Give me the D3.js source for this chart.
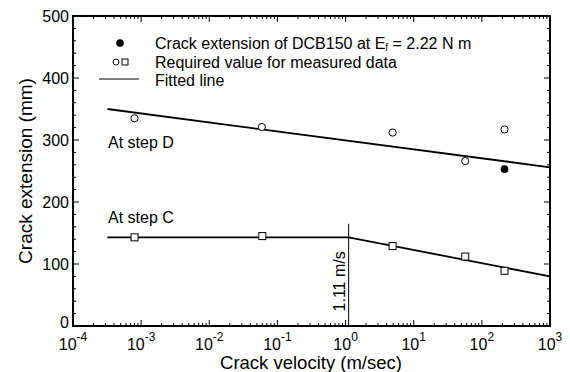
<!DOCTYPE html>
<html>
<head>
<meta charset="utf-8">
<style>
  body { margin: 0; background: #fff; }
  svg text { font-family: "Liberation Sans", Arial, sans-serif; fill: #000; }
</style>
</head>
<body>
<svg id="plot"></svg>
<script src="https://cdn.jsdelivr.net/npm/d3@7"></script>
<script>
// measured data (velocity m/s, crack extension mm)
var stepDVel = [8e-4, 0.059, 4.9, 57, 215];
var stepDExt = [335, 321, 312, 266, 317];
var stepCVel = [8e-4, 0.06, 4.9, 57, 215];
var stepCExt = [143, 145, 129, 112, 89];
var dcbVel = [215];
var dcbExt = [253];

// fitted lines
var fitD = [[3.2e-4, 350], [1000, 256]];
var fitC = [[3.2e-4, 143], [1.11, 143], [1000, 80]];
var transitionVel = 1.11;
var transitionTop = 165;

var yTicks = [0, 100, 200, 300, 400, 500];
var xExps = [-4, -3, -2, -1, 0, 1, 2, 3];

var screen = {width: 570, height: 372};
var margins = {top: 16, bottom: 46, left: 73, right: 20};
var graph = {
    width: screen.width - margins.left - margins.right,
    height: screen.height - margins.top - margins.bottom
};

var svg = d3.select("#plot")
    .attr("width", screen.width)
    .attr("height", screen.height);

var xScale = d3.scaleLog()
    .domain([1e-4, 1e3])
    .range([0, graph.width]);

var yScale = d3.scaleLinear()
    .domain([0, 500])
    .range([graph.height, 0]);

var g = svg.append("g")
    .attr("transform", "translate(" + margins.left + "," + margins.top + ")");

// minor ticks
var minorX = [];
xExps.slice(0, -1).forEach(function(e) {
    for (var m = 2; m <= 9; m++) minorX.push(m * Math.pow(10, e));
});
var minorY = d3.range(0, 501, 20).filter(function(v) { return v % 100 != 0; });

var ticks = g.append("g").attr("stroke", "#000").attr("stroke-width", 1);

minorX.forEach(function(v) {
    var x = xScale(v);
    ticks.append("line").attr("x1", x).attr("x2", x).attr("y1", graph.height).attr("y2", graph.height - 3);
    ticks.append("line").attr("x1", x).attr("x2", x).attr("y1", 0).attr("y2", 3);
});
xExps.forEach(function(e) {
    var x = xScale(Math.pow(10, e));
    ticks.append("line").attr("x1", x).attr("x2", x).attr("y1", graph.height).attr("y2", graph.height - 6);
    ticks.append("line").attr("x1", x).attr("x2", x).attr("y1", 0).attr("y2", 6);
});
minorY.forEach(function(v) {
    var y = yScale(v);
    ticks.append("line").attr("x1", 0).attr("x2", 3).attr("y1", y).attr("y2", y);
    ticks.append("line").attr("x1", graph.width).attr("x2", graph.width - 3).attr("y1", y).attr("y2", y);
});
yTicks.forEach(function(v) {
    var y = yScale(v);
    ticks.append("line").attr("x1", 0).attr("x2", 6).attr("y1", y).attr("y2", y);
    ticks.append("line").attr("x1", graph.width).attr("x2", graph.width - 6).attr("y1", y).attr("y2", y);
});

// frame
g.append("rect")
    .attr("width", graph.width)
    .attr("height", graph.height)
    .attr("fill", "none")
    .attr("stroke", "#000")
    .attr("stroke-width", 2);

// tick labels
g.selectAll(".ylab")
    .data(yTicks)
    .enter()
    .append("text")
    .attr("x", -4)
    .attr("y", function(d) { return yScale(d); })
    .attr("dy", d => d == 0 ? "0.15em" : "0.35em")
    .attr("text-anchor", "end")
    .style("font-size", "16px")
    .text(function(d) { return d; });

var xl = g.selectAll(".xlab")
    .data(xExps)
    .enter()
    .append("text")
    .attr("x", function(d) { return xScale(Math.pow(10, d)); })
    .attr("y", graph.height + 24)
    .attr("text-anchor", "middle")
    .style("font-size", "16px");
xl.append("tspan").text("10");
xl.append("tspan")
    .attr("dy", -9)
    .style("font-size", "12px")
    .text(function(d) { return d; });

// fitted lines
var line = d3.line()
    .x(function(d) { return xScale(d[0]); })
    .y(function(d) { return yScale(d[1]); });

[fitD, fitC].forEach(function(f) {
    g.append("path")
        .attr("d", line(f))
        .attr("fill", "none")
        .attr("stroke", "#000")
        .attr("stroke-width", 1.8);
});

// transition velocity marker
g.append("line")
    .attr("x1", xScale(transitionVel))
    .attr("x2", xScale(transitionVel))
    .attr("y1", yScale(transitionTop))
    .attr("y2", yScale(0))
    .attr("stroke", "#000")
    .attr("stroke-width", 1);

g.append("text")
    .attr("transform", "translate(" + (xScale(transitionVel) - 4) + "," + yScale(72) + ") rotate(-90)")
    .attr("text-anchor", "middle")
    .style("font-size", "16px")
    .text("1.11 m/s");

// data markers
g.selectAll(".circ")
    .data(stepDVel)
    .enter()
    .append("circle")
    .attr("cx", function(d) { return xScale(d); })
    .attr("cy", function(d, i) { return yScale(stepDExt[i]); })
    .attr("r", 3.6)
    .attr("fill", "#fff")
    .attr("stroke", "#000")
    .attr("stroke-width", 1);

g.selectAll(".sq")
    .data(stepCVel)
    .enter()
    .append("rect")
    .attr("x", function(d) { return xScale(d) - 3.5; })
    .attr("y", function(d, i) { return yScale(stepCExt[i]) - 3.5; })
    .attr("width", 7)
    .attr("height", 7)
    .attr("fill", "#fff")
    .attr("stroke", "#000")
    .attr("stroke-width", 1);

g.selectAll(".dcb")
    .data(dcbVel)
    .enter()
    .append("circle")
    .attr("cx", function(d) { return xScale(d); })
    .attr("cy", function(d, i) { return yScale(dcbExt[i]); })
    .attr("r", 3.8)
    .attr("fill", "#000");

// step labels
g.append("text").attr("x", 35).attr("y", 132).style("font-size", "16px").text("At step D");
g.append("text").attr("x", 35).attr("y", 207).style("font-size", "16px").text("At step C");

// legend
var leg = svg.append("g");
leg.append("circle").attr("cx", 120).attr("cy", 43).attr("r", 3.8).attr("fill", "#000");
leg.append("circle").attr("cx", 116).attr("cy", 62).attr("r", 3).attr("fill", "#fff").attr("stroke", "#000");
leg.append("rect").attr("x", 122).attr("y", 59).attr("width", 6).attr("height", 6).attr("fill", "#fff").attr("stroke", "#000");
leg.append("line").attr("x1", 99).attr("x2", 139).attr("y1", 79).attr("y2", 79).attr("stroke", "#000").attr("stroke-width", 1.2);

var t1 = leg.append("text").attr("x", 155).attr("y", 49).style("font-size", "16px");
t1.append("tspan").text("Crack extension of DCB150 at E");
t1.append("tspan").attr("dy", 2).style("font-size", "10px").text("f");
t1.append("tspan").attr("dy", -2).text(" = 2.22 N m");
leg.append("text").attr("x", 155).attr("y", 68).style("font-size", "16px").text("Required value for measured data");
leg.append("text").attr("x", 155).attr("y", 86).style("font-size", "16px").text("Fitted line");

// axis titles
svg.append("text")
    .attr("x", 311)
    .attr("y", 369)
    .attr("text-anchor", "middle")
    .style("font-size", "18.5px")
    .text("Crack velocity (m/sec)");

svg.append("text")
    .attr("transform", "translate(32," + 171 + ") rotate(-90)")
    .attr("text-anchor", "middle")
    .style("font-size", "19px")
    .text("Crack extension (mm)");
</script>
</body>
</html>
